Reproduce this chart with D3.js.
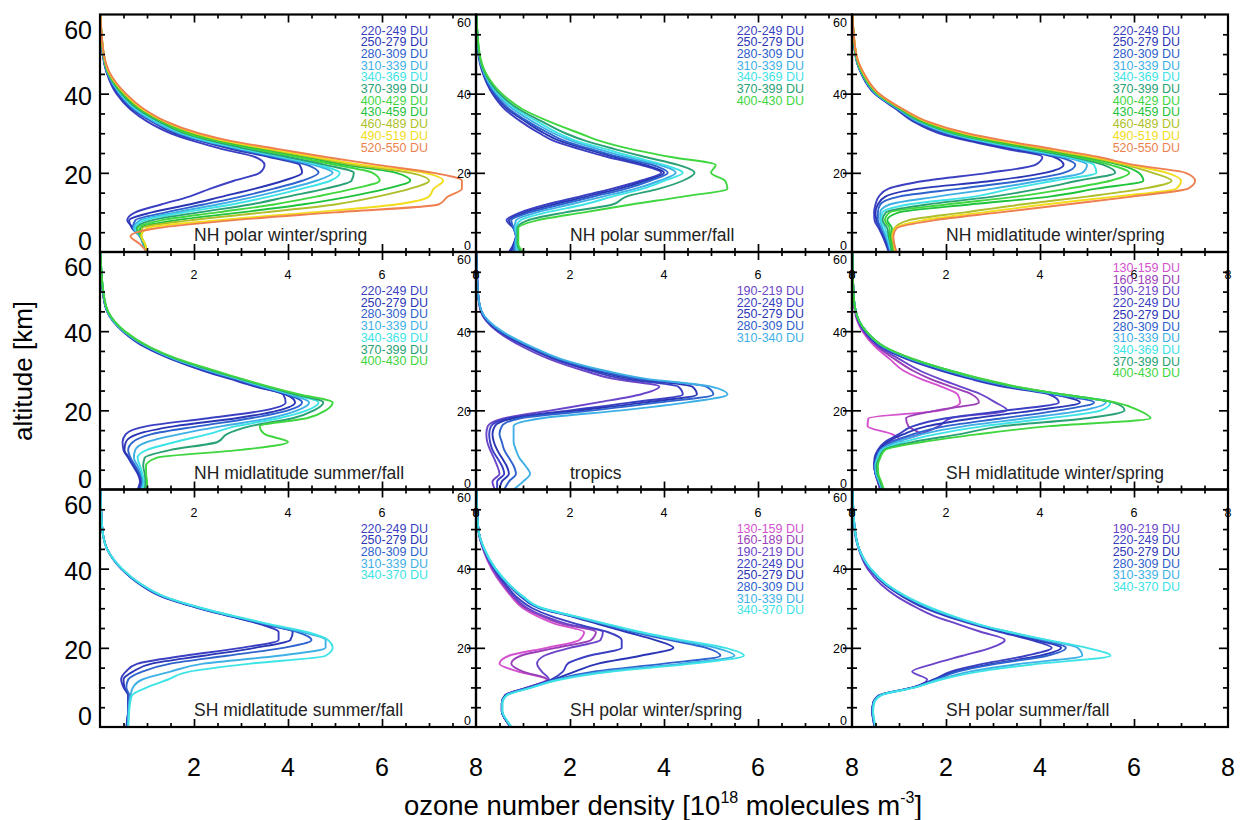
<!DOCTYPE html>
<html><head><meta charset="utf-8">
<script src="https://cdn.jsdelivr.net/npm/d3@7"></script>
<style>
html,body{margin:0;padding:0;background:#fff;}
svg{display:block;font-family:"Liberation Sans",Arial,Helvetica,sans-serif;}
</style></head><body>
<svg id="chart" width="1240" height="820"></svg>
<script>
// ---------- data ----------
const altitudes = [0, 2, 4, 6, 8, 10, 12, 14, 16, 18, 20, 22, 24, 26, 28, 30, 33, 36, 40, 45, 50, 60];

const duBinStarts = [130, 160, 190, 220, 250, 280, 310, 340, 370, 400, 430, 460, 490, 520];
const duColors = ["#d452cf", "#9a3fb8", "#6b45c9", "#3b3fc2", "#2a36b5", "#2e62cc", "#3fb0e6", "#3ee3e6", "#2aa174", "#3fd63f", "#1fc23b", "#aebf2a", "#f2dc1c", "#ee7f4f"];

const panelTitles = ["NH polar winter/spring", "NH polar summer/fall", "NH midlatitude winter/spring",
  "NH midlatitude summer/fall", "tropics", "SH midlatitude winter/spring",
  "SH midlatitude summer/fall", "SH polar winter/spring", "SH polar summer/fall"];

const xTickValues = [0, 2, 4, 6, 8];
const yTickValues = [0, 20, 40, 60];

const nhPolarWSLabels = ["220-249 DU","250-279 DU","280-309 DU","310-339 DU","340-369 DU","370-399 DU","400-429 DU","430-459 DU","460-489 DU","490-519 DU","520-550 DU"];
const nhPolarWS = [
  [1.0, 0.95, 0.85, 0.72, 0.58, 0.75, 1.3, 1.9, 2.35, 2.85, 3.4, 3.5, 3.3, 2.6, 2.0, 1.5, 1.0, 0.65, 0.35, 0.15, 0.06, 0.01],
  [0.98, 0.92, 0.85, 0.68, 0.62, 1.1, 1.9, 2.6, 3.3, 3.9, 4.3, 4.25, 3.6, 2.8, 2.15, 1.6, 1.1, 0.7, 0.38, 0.16, 0.06, 0.01],
  [0.98, 0.92, 0.85, 0.7, 0.75, 1.4, 2.2, 3.0, 3.7, 4.3, 4.65, 4.4, 3.7, 2.9, 2.2, 1.65, 1.12, 0.72, 0.4, 0.16, 0.06, 0.01],
  [0.98, 0.92, 0.85, 0.72, 0.85, 1.6, 2.5, 3.3, 4.0, 4.6, 4.95, 4.55, 3.8, 3.0, 2.25, 1.7, 1.15, 0.75, 0.42, 0.17, 0.07, 0.01],
  [0.98, 0.93, 0.86, 0.75, 0.95, 1.8, 2.8, 3.6, 4.3, 4.9, 5.1, 4.65, 3.9, 3.05, 2.3, 1.75, 1.2, 0.78, 0.44, 0.18, 0.07, 0.01],
  [0.99, 0.94, 0.86, 0.78, 1.1, 2.1, 3.2, 4.0, 4.8, 5.35, 5.4, 4.8, 4.0, 3.15, 2.4, 1.8, 1.25, 0.82, 0.46, 0.18, 0.07, 0.01],
  [1.0, 0.95, 0.87, 0.8, 1.3, 2.5, 3.7, 4.6, 5.4, 5.95, 5.8, 5.0, 4.2, 3.3, 2.5, 1.85, 1.3, 0.86, 0.48, 0.19, 0.07, 0.01],
  [1.0, 0.95, 0.88, 0.85, 1.6, 3.0, 4.3, 5.3, 6.1, 6.6, 6.3, 5.2, 4.4, 3.45, 2.6, 1.95, 1.33, 0.88, 0.5, 0.2, 0.08, 0.01],
  [1.0, 0.96, 0.88, 0.9, 1.9, 3.5, 5.0, 5.9, 6.6, 7.0, 6.6, 5.4, 4.5, 3.55, 2.65, 2.0, 1.35, 0.9, 0.52, 0.2, 0.08, 0.01],
  [1.0, 0.96, 0.88, 1.0, 2.5, 4.5, 6.3, 7.0, 7.1, 7.3, 6.9, 5.6, 4.6, 3.65, 2.7, 2.05, 1.38, 0.92, 0.53, 0.21, 0.08, 0.01],
  [1.0, 0.85, 0.65, 1.2, 2.8, 5.0, 7.2, 7.4, 7.7, 7.7, 7.1, 5.9, 4.8, 3.8, 2.8, 2.1, 1.4, 0.95, 0.55, 0.22, 0.08, 0.01]
];

const nhPolarSFLabels = ["220-249 DU","250-279 DU","280-309 DU","310-339 DU","340-369 DU","370-399 DU","400-430 DU"];
const nhPolarSF = [
  [0.7, 0.8, 0.85, 0.8, 0.65, 0.95, 1.5, 2.2, 2.9, 3.5, 3.94, 3.5, 2.8, 2.2, 1.67, 1.35, 0.95, 0.62, 0.35, 0.15, 0.05, 0.01],
  [0.75, 0.8, 0.85, 0.8, 0.7, 1.05, 1.65, 2.35, 3.05, 3.6, 4.0, 3.6, 2.95, 2.35, 1.8, 1.45, 1.05, 0.68, 0.38, 0.16, 0.06, 0.01],
  [0.8, 0.82, 0.85, 0.8, 0.75, 1.15, 1.8, 2.5, 3.2, 3.7, 4.08, 3.75, 3.05, 2.45, 1.9, 1.55, 1.1, 0.72, 0.4, 0.17, 0.06, 0.01],
  [0.85, 0.84, 0.86, 0.82, 0.85, 1.3, 2.0, 2.7, 3.4, 3.9, 4.25, 3.9, 3.2, 2.6, 2.05, 1.65, 1.2, 0.8, 0.44, 0.18, 0.06, 0.01],
  [0.9, 0.86, 0.87, 0.85, 0.95, 1.5, 2.3, 2.9, 3.55, 4.0, 4.4, 4.0, 3.35, 2.75, 2.15, 1.75, 1.3, 0.86, 0.47, 0.19, 0.07, 0.01],
  [0.95, 0.88, 0.88, 0.88, 1.1, 1.9, 2.9, 3.2, 3.9, 4.4, 4.65, 4.3, 3.6, 2.95, 2.35, 1.9, 1.4, 0.92, 0.5, 0.2, 0.07, 0.01],
  [1.0, 0.9, 0.9, 0.9, 1.3, 2.3, 3.3, 4.4, 5.35, 5.3, 5.0, 5.1, 4.15, 3.3, 2.65, 2.2, 1.55, 1.0, 0.55, 0.22, 0.08, 0.01]
];

const nhMidWSLabels = ["220-249 DU","250-279 DU","280-309 DU","310-339 DU","340-369 DU","370-399 DU","400-429 DU","430-459 DU","460-489 DU","490-519 DU","520-550 DU"];
const nhMidWS = [
  [0.78, 0.72, 0.65, 0.57, 0.48, 0.47, 0.5, 0.57, 0.78, 1.56, 2.9, 3.9, 4.05, 3.3, 2.5, 1.85, 1.3, 0.95, 0.48, 0.2, 0.07, 0.01],
  [0.8, 0.74, 0.68, 0.6, 0.52, 0.5, 0.55, 0.71, 1.42, 3.0, 4.1, 4.5, 4.3, 3.45, 2.6, 1.95, 1.33, 0.97, 0.49, 0.2, 0.07, 0.01],
  [0.8, 0.76, 0.7, 0.62, 0.55, 0.55, 0.6, 1.0, 2.3, 3.6, 4.5, 4.75, 4.4, 3.55, 2.7, 2.0, 1.36, 0.98, 0.5, 0.21, 0.07, 0.01],
  [0.82, 0.78, 0.72, 0.65, 0.6, 0.6, 0.8, 1.8, 3.0, 4.0, 4.9, 5.0, 4.5, 3.6, 2.75, 2.05, 1.4, 1.0, 0.51, 0.21, 0.07, 0.01],
  [0.84, 0.8, 0.75, 0.7, 0.62, 0.65, 1.2, 2.6, 3.4, 4.3, 5.2, 5.15, 4.6, 3.7, 2.8, 2.1, 1.43, 1.02, 0.52, 0.22, 0.08, 0.01],
  [0.85, 0.82, 0.78, 0.75, 0.65, 0.72, 1.6, 3.0, 4.0, 4.8, 5.6, 5.35, 4.7, 3.8, 2.9, 2.15, 1.46, 1.03, 0.53, 0.22, 0.08, 0.01],
  [0.86, 0.84, 0.8, 0.8, 0.7, 0.8, 2.0, 3.5, 4.6, 5.5, 5.9, 5.5, 4.8, 3.9, 2.95, 2.2, 1.49, 1.05, 0.54, 0.23, 0.08, 0.01],
  [0.88, 0.86, 0.82, 0.85, 0.75, 1.0, 2.5, 4.2, 5.2, 6.2, 6.1, 5.7, 4.95, 4.0, 3.05, 2.3, 1.52, 1.06, 0.55, 0.24, 0.08, 0.01],
  [0.9, 0.88, 0.85, 0.9, 1.2, 2.4, 3.6, 5.0, 6.2, 6.8, 6.4, 5.8, 5.05, 4.1, 3.15, 2.35, 1.55, 1.08, 0.56, 0.25, 0.09, 0.01],
  [0.92, 0.9, 0.87, 0.92, 1.5, 2.8, 4.1, 5.6, 6.9, 7.0, 6.7, 5.9, 5.15, 4.2, 3.2, 2.4, 1.58, 1.09, 0.57, 0.25, 0.09, 0.01],
  [0.95, 0.9, 0.88, 0.95, 1.74, 3.15, 4.56, 5.96, 7.15, 7.3, 7.1, 6.0, 5.25, 4.3, 3.3, 2.45, 1.6, 1.1, 0.58, 0.26, 0.09, 0.01]
];

const nhMidSFLabels = ["220-249 DU","250-279 DU","280-309 DU","310-339 DU","340-369 DU","370-399 DU","400-430 DU"];
const nhMidSF = [
  [0.8, 0.85, 0.8, 0.7, 0.6, 0.5, 0.48, 0.55, 1.0, 2.3, 3.5, 3.95, 3.9, 3.3, 2.75, 2.2, 1.5, 0.95, 0.48, 0.15, 0.06, 0.01],
  [0.82, 0.87, 0.82, 0.72, 0.62, 0.52, 0.55, 0.8, 1.6, 2.9, 3.8, 4.15, 3.95, 3.35, 2.8, 2.25, 1.52, 0.97, 0.49, 0.15, 0.06, 0.01],
  [0.85, 0.9, 0.85, 0.75, 0.65, 0.6, 0.7, 1.1, 2.1, 3.2, 4.0, 4.3, 4.0, 3.4, 2.85, 2.3, 1.55, 1.0, 0.5, 0.16, 0.06, 0.01],
  [0.88, 0.92, 0.88, 0.8, 0.72, 0.75, 1.0, 1.7, 2.6, 3.6, 4.2, 4.45, 4.05, 3.45, 2.9, 2.33, 1.57, 1.01, 0.5, 0.16, 0.07, 0.01],
  [0.9, 0.94, 0.9, 0.85, 0.8, 1.0, 1.6, 2.3, 2.9, 3.8, 4.4, 4.65, 4.1, 3.5, 2.93, 2.36, 1.6, 1.02, 0.51, 0.16, 0.07, 0.01],
  [0.95, 0.97, 0.95, 0.92, 0.95, 1.5, 2.5, 2.7, 3.2, 4.1, 4.55, 4.75, 4.15, 3.55, 2.97, 2.4, 1.62, 1.04, 0.52, 0.17, 0.07, 0.01],
  [1.0, 1.0, 0.98, 0.98, 1.2, 3.0, 4.0, 3.5, 3.4, 4.4, 4.8, 4.95, 4.25, 3.6, 3.0, 2.45, 1.65, 1.06, 0.53, 0.17, 0.07, 0.01]
];

const tropicsLabels = ["190-219 DU","220-249 DU","250-279 DU","280-309 DU","310-340 DU"];
const tropics = [
  [0.4, 0.35, 0.5, 0.45, 0.38, 0.3, 0.24, 0.22, 0.25, 0.6, 1.6, 2.6, 3.5, 3.9, 2.9, 2.3, 1.55, 1.0, 0.45, 0.1, 0.04, 0.01],
  [0.45, 0.45, 0.6, 0.55, 0.45, 0.35, 0.3, 0.28, 0.32, 0.7, 2.0, 3.3, 4.4, 4.3, 3.1, 2.45, 1.65, 1.08, 0.48, 0.11, 0.04, 0.01],
  [0.5, 0.55, 0.7, 0.65, 0.55, 0.45, 0.38, 0.35, 0.4, 0.8, 2.2, 3.6, 4.7, 4.6, 3.3, 2.55, 1.7, 1.12, 0.5, 0.11, 0.04, 0.01],
  [0.6, 0.7, 0.85, 0.8, 0.7, 0.6, 0.55, 0.5, 0.55, 0.95, 2.5, 3.9, 5.05, 4.9, 3.45, 2.65, 1.75, 1.16, 0.52, 0.12, 0.04, 0.01],
  [0.8, 1.0, 1.15, 1.05, 0.92, 0.85, 0.8, 0.8, 0.8, 1.4, 3.1, 4.5, 5.35, 5.0, 3.6, 2.75, 1.8, 1.2, 0.55, 0.12, 0.04, 0.01]
];

const shMidWSLabels = ["130-159 DU","160-189 DU","190-219 DU","220-249 DU","250-279 DU","280-309 DU","310-339 DU","340-369 DU","370-399 DU","400-430 DU"];
const shMidWS = [
  [0.6, 0.55, 0.5, 0.48, 0.5, 0.6, 1.05, 0.85, 0.33, 0.35, 1.9, 2.3, 2.25, 1.9, 1.45, 1.1, 0.8, 0.5, 0.22, 0.06, 0.03, 0.01],
  [0.6, 0.55, 0.5, 0.48, 0.5, 0.58, 0.9, 1.45, 1.2, 1.15, 1.8, 2.7, 2.55, 2.1, 1.65, 1.3, 0.9, 0.55, 0.24, 0.07, 0.03, 0.01],
  [0.6, 0.55, 0.5, 0.48, 0.5, 0.56, 0.8, 1.45, 1.85, 2.1, 3.3, 3.05, 2.75, 2.3, 1.85, 1.45, 1.0, 0.58, 0.25, 0.07, 0.03, 0.01],
  [0.62, 0.56, 0.5, 0.47, 0.48, 0.55, 0.7, 1.0, 1.3, 2.0, 3.3, 4.4, 4.2, 3.2, 2.5, 1.9, 1.15, 0.62, 0.27, 0.07, 0.03, 0.01],
  [0.62, 0.56, 0.5, 0.48, 0.5, 0.58, 0.75, 1.1, 1.6, 2.6, 3.9, 4.85, 4.3, 3.3, 2.55, 1.95, 1.2, 0.65, 0.28, 0.08, 0.03, 0.01],
  [0.63, 0.57, 0.5, 0.48, 0.52, 0.6, 0.85, 1.3, 2.0, 3.2, 4.4, 5.15, 4.35, 3.35, 2.6, 2.0, 1.22, 0.66, 0.29, 0.08, 0.03, 0.01],
  [0.64, 0.58, 0.52, 0.5, 0.54, 0.62, 0.95, 1.5, 2.4, 3.7, 4.9, 5.4, 4.4, 3.4, 2.65, 2.05, 1.25, 0.68, 0.3, 0.08, 0.03, 0.01],
  [0.65, 0.58, 0.52, 0.5, 0.55, 0.65, 1.1, 1.8, 2.8, 4.2, 5.3, 5.5, 4.45, 3.45, 2.7, 2.08, 1.27, 0.69, 0.3, 0.08, 0.03, 0.01],
  [0.66, 0.6, 0.54, 0.52, 0.58, 0.68, 1.3, 2.3, 3.2, 5.0, 5.8, 5.55, 4.5, 3.45, 2.72, 2.1, 1.28, 0.7, 0.3, 0.08, 0.03, 0.01],
  [0.68, 0.62, 0.56, 0.55, 0.6, 0.7, 1.5, 2.7, 4.2, 6.35, 6.1, 5.6, 4.5, 3.5, 2.75, 2.1, 1.3, 0.7, 0.3, 0.08, 0.03, 0.01]
];

const shMidSFLabels = ["220-249 DU","250-279 DU","280-309 DU","310-339 DU","340-370 DU"];
const shMidSF = [
  [0.56, 0.58, 0.6, 0.6, 0.6, 0.5, 0.45, 0.55, 0.8, 1.8, 3.0, 3.8, 3.8, 3.4, 2.75, 2.1, 1.3, 0.85, 0.45, 0.15, 0.05, 0.01],
  [0.57, 0.58, 0.6, 0.6, 0.6, 0.52, 0.5, 0.7, 1.1, 2.2, 3.3, 4.05, 4.1, 3.45, 2.78, 2.12, 1.32, 0.86, 0.45, 0.15, 0.05, 0.01],
  [0.58, 0.59, 0.6, 0.61, 0.62, 0.56, 0.6, 0.9, 1.5, 2.7, 3.9, 4.5, 4.2, 3.5, 2.8, 2.14, 1.34, 0.87, 0.46, 0.15, 0.05, 0.01],
  [0.6, 0.6, 0.61, 0.62, 0.65, 0.7, 0.9, 1.5, 2.2, 3.8, 4.8, 4.8, 4.3, 3.55, 2.83, 2.16, 1.35, 0.88, 0.46, 0.15, 0.05, 0.01],
  [0.6, 0.61, 0.62, 0.64, 0.68, 1.0, 1.45, 1.9, 3.2, 4.8, 4.95, 4.85, 4.4, 3.6, 2.86, 2.18, 1.36, 0.89, 0.47, 0.15, 0.05, 0.01]
];

const shPolarWSLabels = ["130-159 DU","160-189 DU","190-219 DU","220-249 DU","250-279 DU","280-309 DU","310-339 DU","340-370 DU"];
const shPolarWS = [
  [0.74, 0.62, 0.55, 0.55, 0.62, 1.1, 1.5, 0.9, 0.5, 0.7, 1.5, 2.2, 2.3, 1.7, 1.3, 1.0, 0.75, 0.55, 0.33, 0.15, 0.05, 0.01],
  [0.74, 0.62, 0.55, 0.55, 0.62, 1.1, 1.52, 1.0, 0.75, 0.95, 1.7, 2.45, 2.55, 1.85, 1.4, 1.05, 0.78, 0.57, 0.35, 0.15, 0.05, 0.01],
  [0.74, 0.62, 0.55, 0.55, 0.62, 1.1, 1.55, 1.4, 1.3, 1.45, 2.0, 2.65, 2.7, 1.95, 1.45, 1.1, 0.8, 0.6, 0.36, 0.16, 0.05, 0.01],
  [0.74, 0.62, 0.55, 0.55, 0.62, 1.12, 1.6, 1.85, 1.95, 2.4, 3.1, 3.1, 2.8, 2.15, 1.6, 1.2, 0.85, 0.63, 0.38, 0.16, 0.05, 0.01],
  [0.74, 0.62, 0.55, 0.55, 0.63, 1.15, 1.65, 2.1, 2.6, 3.5, 4.2, 3.8, 3.2, 2.6, 2.0, 1.35, 0.95, 0.68, 0.4, 0.17, 0.05, 0.01],
  [0.75, 0.63, 0.55, 0.55, 0.64, 1.15, 1.7, 2.5, 4.0, 5.2, 4.9, 4.1, 3.35, 2.7, 2.05, 1.38, 0.97, 0.69, 0.4, 0.17, 0.05, 0.01],
  [0.75, 0.63, 0.56, 0.56, 0.65, 1.18, 1.75, 2.7, 4.4, 5.5, 5.1, 4.25, 3.45, 2.75, 2.08, 1.4, 0.99, 0.7, 0.41, 0.17, 0.05, 0.01],
  [0.76, 0.64, 0.56, 0.56, 0.66, 1.2, 1.8, 2.9, 4.6, 5.7, 5.3, 4.35, 3.5, 2.8, 2.1, 1.42, 1.0, 0.71, 0.42, 0.18, 0.05, 0.01]
];

const shPolarSFLabels = ["190-219 DU","220-249 DU","250-279 DU","280-309 DU","310-339 DU","340-370 DU"];
const shPolarSF = [
  [0.48, 0.45, 0.43, 0.45, 0.58, 1.3, 1.6, 1.28, 1.75, 2.35, 2.95, 3.25, 2.75, 2.25, 1.75, 1.4, 0.95, 0.62, 0.33, 0.14, 0.05, 0.01],
  [0.48, 0.45, 0.43, 0.45, 0.58, 1.3, 1.75, 2.1, 2.8, 3.7, 4.25, 3.8, 3.15, 2.55, 2.0, 1.55, 1.07, 0.7, 0.37, 0.15, 0.06, 0.01],
  [0.49, 0.45, 0.43, 0.45, 0.58, 1.3, 1.75, 2.2, 3.0, 4.0, 4.45, 3.9, 3.25, 2.6, 2.05, 1.6, 1.1, 0.72, 0.38, 0.15, 0.06, 0.01],
  [0.49, 0.46, 0.44, 0.46, 0.6, 1.32, 1.8, 2.25, 3.1, 4.15, 4.55, 4.0, 3.3, 2.62, 2.08, 1.63, 1.12, 0.73, 0.39, 0.15, 0.06, 0.01],
  [0.5, 0.46, 0.44, 0.46, 0.6, 1.33, 1.85, 2.5, 3.6, 4.9, 4.8, 4.1, 3.35, 2.65, 2.12, 1.67, 1.14, 0.74, 0.39, 0.15, 0.06, 0.01],
  [0.5, 0.47, 0.45, 0.47, 0.62, 1.35, 1.9, 2.7, 4.0, 5.5, 5.0, 4.15, 3.35, 2.68, 2.15, 1.7, 1.15, 0.75, 0.4, 0.15, 0.06, 0.01]
];

// ---------- drawing ----------
const panels = [
  {labels: nhPolarWSLabels, data: nhPolarWS},
  {labels: nhPolarSFLabels, data: nhPolarSF},
  {labels: nhMidWSLabels, data: nhMidWS},
  {labels: nhMidSFLabels, data: nhMidSF},
  {labels: tropicsLabels, data: tropics},
  {labels: shMidWSLabels, data: shMidWS},
  {labels: shMidSFLabels, data: shMidSF},
  {labels: shPolarWSLabels, data: shPolarWS},
  {labels: shPolarSFLabels, data: shPolarSF}
];
panels.forEach((p, i) => p.title = panelTitles[i]);

const svg = d3.select("#chart");
const L = 100, T = 14.5, PW = 376, PH = 237.5;
const color = d3.scaleOrdinal(duBinStarts, duColors);
const defs = svg.append("defs");
const linesLayer = svg.append("g");
const frameLayer = svg.append("g");
const textLayer = svg.append("g");

function drawTicks(g, axis, transform, values, size) {
  const a = g.append("g").attr("transform", transform)
    .call(axis.tickValues(values).tickSize(size).tickSizeOuter(0).tickFormat(() => ""));
  a.select(".domain").remove();
  a.selectAll(".tick line").attr("stroke", "#000").attr("stroke-width", 1.7);
}

panels.forEach((p, i) => {
  const r = Math.floor(i / 3), c = i % 3;
  const x0 = L + c * PW, y0 = T + r * PH;
  const x = d3.scaleLinear().domain([0, 8]).range([x0, x0 + PW]);
  const y = d3.scaleLinear().domain([0, 60]).range([y0 + PH, y0]);

  defs.append("clipPath").attr("id", "clip" + i)
    .append("rect").attr("x", x0).attr("y", y0).attr("width", PW).attr("height", PH);

  const lg = linesLayer.append("g").attr("clip-path", `url(#clip${i})`);
  const line = d3.line().curve(d3.curveMonotoneY);
  p.data.forEach((vals, k) => {
    const pts = vals.map((v, j) => [x(v), y(altitudes[j])]).sort((a, b) => a[1] - b[1]);
    lg.append("path").attr("d", line(pts)).attr("fill", "none")
      .attr("stroke", color(parseInt(p.labels[k]))).attr("stroke-width", 1.9)
      .attr("stroke-linejoin", "round");
  });

  // frame
  const fg = frameLayer.append("g");
  fg.append("rect").attr("x", x0).attr("y", y0).attr("width", PW).attr("height", PH)
    .attr("fill", "none").attr("stroke", "#000").attr("stroke-width", 2.2);
  const xMinor = d3.range(0.5, 8, 0.5).filter(v => v % 2 !== 0);
  const xMajor = [2, 4, 6];
  const yMinor = d3.range(5, 60, 5).filter(v => v % 20 !== 0);
  const yMajor = [20, 40];
  drawTicks(fg, d3.axisTop(x), `translate(0,${y0 + PH})`, xMinor, 4);
  drawTicks(fg, d3.axisTop(x), `translate(0,${y0 + PH})`, xMajor, 8);
  drawTicks(fg, d3.axisBottom(x), `translate(0,${y0})`, xMinor, 4);
  drawTicks(fg, d3.axisBottom(x), `translate(0,${y0})`, xMajor, 8);
  drawTicks(fg, d3.axisRight(y), `translate(${x0},0)`, yMinor, 5);
  drawTicks(fg, d3.axisRight(y), `translate(${x0},0)`, yMajor, 9);
  drawTicks(fg, d3.axisLeft(y), `translate(${x0 + PW},0)`, yMinor, 5);
  drawTicks(fg, d3.axisLeft(y), `translate(${x0 + PW},0)`, yMajor, 9);

  // y tick labels
  if (c === 0) {
    yTickValues.forEach(v => {
      const yy = Math.min(Math.max(y(v) + 2, y0 + 15), y0 + PH - 11);
      textLayer.append("text").attr("x", 92).attr("y", yy).attr("text-anchor", "end")
        .attr("dominant-baseline", "central").attr("font-size", 25).text(v);
    });
  } else {
    yTickValues.forEach(v => {
      const yy = Math.min(Math.max(y(v) + 1.5, y0 + 8), y0 + PH - 6);
      textLayer.append("text").attr("x", x0 - 5).attr("y", yy).attr("text-anchor", "end")
        .attr("dominant-baseline", "central").attr("font-size", 12.5).text(v);
    });
  }
  // small x tick labels (bottom axis of the panel above, drawn inside this panel)
  if (r > 0) {
    xTickValues.filter(v => c > 0 || v > 0).forEach(v => {
      textLayer.append("text").attr("x", x(v)).attr("y", y0 + 23).attr("text-anchor", "middle")
        .attr("dominant-baseline", "central").attr("font-size", 12.5).text(v);
    });
  }
  // big bottom x labels
  if (r === 2) {
    xTickValues.filter(v => v > 0).forEach(v => {
      textLayer.append("text").attr("x", x(v)).attr("y", 767).attr("text-anchor", "middle")
        .attr("dominant-baseline", "central").attr("font-size", 25).text(v);
    });
  }

  // legend
  const n = p.labels.length;
  const firstOff = (r === 0 || n >= 10) ? 16 : 39;
  p.labels.forEach((lab, k) => {
    textLayer.append("text").attr("x", x(6.98)).attr("y", y0 + firstOff + k * 11.7)
      .attr("text-anchor", "end").attr("dominant-baseline", "central")
      .attr("font-size", 12.5).attr("fill", color(parseInt(lab))).text(lab);
  });

  // panel title
  const t = textLayer.append("text").attr("y", y0 + PH - 11).attr("font-size", 17.5)
    .attr("fill", "#222").text(p.title);
  const w = t.node().getComputedTextLength();
  t.attr("x", Math.min(x(2), x(6.75) - w));
});

// axis titles
textLayer.append("text").attr("transform", "translate(32,371) rotate(-90)")
  .attr("text-anchor", "middle").attr("font-size", 26).text("altitude [km]");

const xt = textLayer.append("text").attr("x", 663).attr("y", 815)
  .attr("text-anchor", "middle").attr("font-size", 27.5);
xt.append("tspan").text("ozone number density [10");
xt.append("tspan").attr("font-size", 16).attr("dy", -12).text("18");
xt.append("tspan").attr("dy", 12).text(" molecules m");
xt.append("tspan").attr("font-size", 16).attr("dy", -12).text("-3");
xt.append("tspan").attr("dy", 12).text("]");
</script>
</body></html>
